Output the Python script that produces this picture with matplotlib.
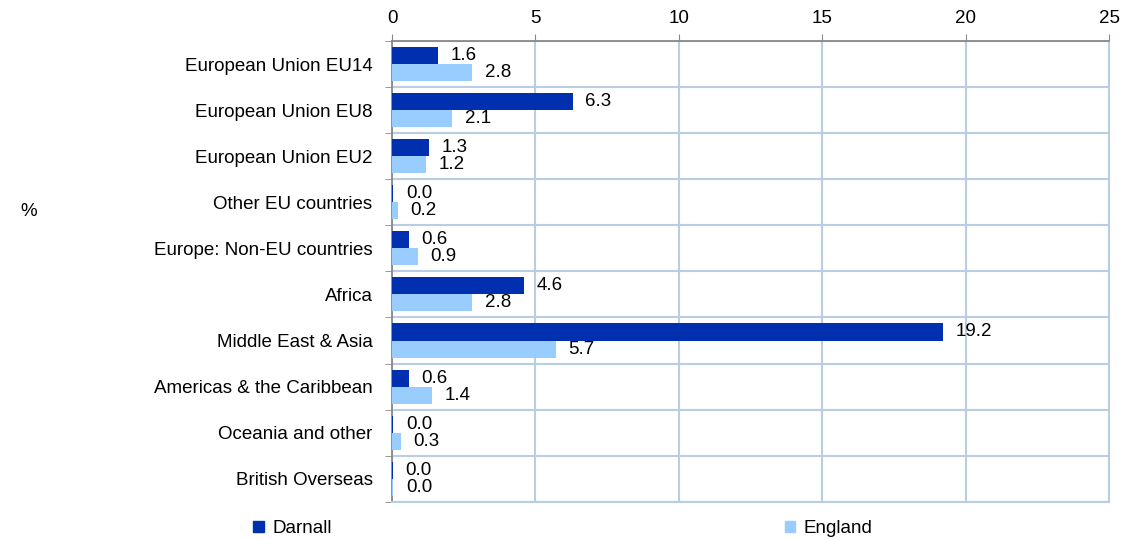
import matplotlib.pyplot as plt
import numpy as np
from matplotlib.patches import Patch

plt.rcParams['font.family'] = ['Liberation Sans', 'DejaVu Sans']

categories = [
    "European Union EU14",
    "European Union EU8",
    "European Union EU2",
    "Other EU countries",
    "Europe: Non-EU countries",
    "Africa",
    "Middle East & Asia",
    "Americas & the Caribbean",
    "Oceania and other",
    "British Overseas",
]
darnall = [1.6, 6.3, 1.3, 0.045, 0.6, 4.6, 19.2, 0.6, 0.045, 0.04]
england = [2.8, 2.1, 1.2, 0.2, 0.9, 2.8, 5.7, 1.4, 0.3, 0.045]
x_ticks = [0, 5, 10, 15, 20, 25]

dark = '#0030b0'
light = '#99ccff'
grid_col = '#b9cde5'
spine_col = '#888888'
fs = 13.5

fig = plt.figure(figsize=(11.33, 5.39), dpi=100)
ax = fig.add_axes([0.346, 0.069, 0.633, 0.855])

y = np.arange(len(categories))
h = 0.37
b1 = ax.barh(y - h / 2, darnall, height=h, color=dark, zorder=3)
b2 = ax.barh(y + h / 2, england, height=h, color=light, zorder=3)

for bars, vals in ((b1, darnall), (b2, england)):
    for bar, v in zip(bars, vals):
        ax.annotate(f"{v:.1f}",
                    (bar.get_width(), bar.get_y() + bar.get_height() / 2),
                    xytext=(9, 0), textcoords='offset points',
                    ha='left', va='center', fontsize=fs, color='black', zorder=4)

ax.set_xlim(0, 25)
ax.set_ylim(len(categories) - 0.5, -0.5)
ax.xaxis.tick_top()
ax.set_xticks(x_ticks)
ax.tick_params(axis='x', direction='out', length=5, color=spine_col,
               labelsize=fs, pad=5)

ax.set_yticks(y)
ax.set_yticklabels(categories, fontsize=fs)
ax.tick_params(axis='y', which='major', length=0, pad=14)
ax.set_yticks(np.arange(len(categories) + 1) - 0.5, minor=True)
ax.tick_params(axis='y', which='minor', direction='out', length=5, color=spine_col)

ax.grid(axis='x', color=grid_col, linewidth=1.5, zorder=0)
ax.grid(axis='y', which='minor', color=grid_col, linewidth=1.5, zorder=0)

ax.spines['top'].set_color(spine_col)
ax.spines['top'].set_linewidth(1.3)
ax.spines['left'].set_color(spine_col)
ax.spines['left'].set_linewidth(1.3)
ax.spines['right'].set_color(grid_col)
ax.spines['right'].set_linewidth(1.5)
ax.spines['bottom'].set_color(grid_col)
ax.spines['bottom'].set_linewidth(1.5)

fig.text(0.018, 0.607, "%", fontsize=fs, va='center', ha='left')

fig.legend(handles=[Patch(color=dark, label='Darnall')],
           loc='center left', bbox_to_anchor=(0.217, 0.019),
           frameon=False, fontsize=fs, handlelength=0.55,
           handleheight=0.55, handletextpad=0.45, borderaxespad=0)
fig.legend(handles=[Patch(color=light, label='England')],
           loc='center left', bbox_to_anchor=(0.686, 0.019),
           frameon=False, fontsize=fs, handlelength=0.55,
           handleheight=0.55, handletextpad=0.45, borderaxespad=0)

fig.savefig('out.png', dpi=100)
